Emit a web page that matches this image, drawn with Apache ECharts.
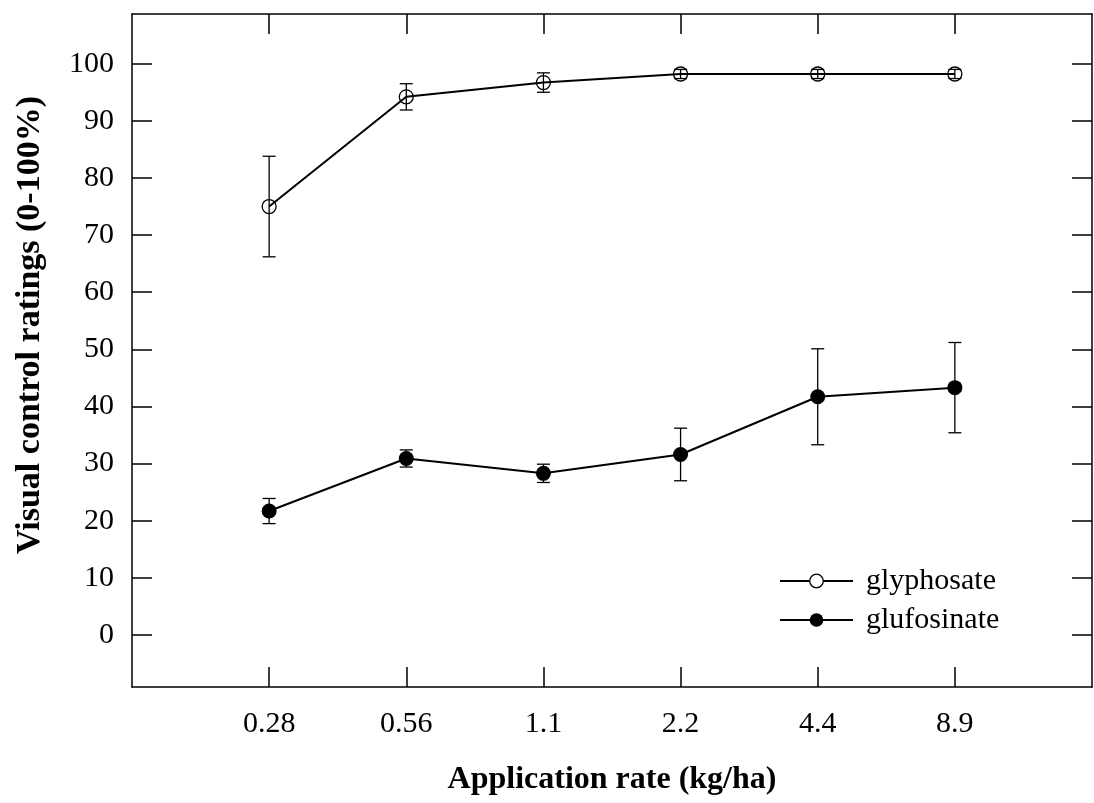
<!DOCTYPE html>
<html>
<head>
<meta charset="utf-8">
<script src="https://cdn.jsdelivr.net/npm/echarts@6/dist/echarts.min.js"></script>
<style>html,body{margin:0;padding:0;background:#fff;}#c{width:1094px;height:803px;}</style>
</head>
<body>
<div id="c"></div>
<script>
const categories = ['0.28', '0.56', '1.1', '2.2', '4.4', '8.9'];
const glyphosateMean = [75.0, 94.2, 96.7, 98.2, 98.2, 98.2];
const glyphosateErr = [8.8, 2.3, 1.7, 0.8, 0.8, 0.8];
const glufosinateMean = [21.7, 30.9, 28.3, 31.6, 41.7, 43.3];
const glufosinateErr = [2.2, 1.5, 1.6, 4.6, 8.4, 7.9];
const yTicks = [0, 10, 20, 30, 40, 50, 60, 70, 80, 90, 100];
const xTitle = 'Application rate (kg/ha)';
const yTitle = 'Visual control ratings (0-100%)';

const FONT = 'Liberation Serif';
const xPos = categories.map((c, i) => i + 1);

function pts(mean) { return mean.map((v, i) => [xPos[i], v]); }
function errs(mean, err) { return mean.map((v, i) => [xPos[i], v - err[i], v + err[i]]); }

function errRender(params, api) {
  const x = api.value(0), lo = api.value(1), hi = api.value(2);
  const a = api.coord([x, lo]), b = api.coord([x, hi]);
  const w = 6.5;
  const st = { stroke: '#000', lineWidth: 1.3, fill: null };
  return {
    type: 'group',
    children: [
      { type: 'line', shape: { x1: a[0], y1: a[1], x2: b[0], y2: b[1] }, style: st },
      { type: 'line', shape: { x1: a[0] - w, y1: a[1], x2: a[0] + w, y2: a[1] }, style: st },
      { type: 'line', shape: { x1: b[0] - w, y1: b[1], x2: b[0] + w, y2: b[1] }, style: st }
    ]
  };
}

const axisLine = { show: true, onZero: false, lineStyle: { color: '#000', width: 1.5 } };
const tickStyle = { color: '#000', width: 1.5 };

const chart = echarts.init(document.getElementById('c'), null, { renderer: 'canvas' });
chart.setOption({
  animation: false,
  backgroundColor: '#fff',
  grid: { left: 132, right: 2, top: 14, bottom: 116, show: false },
  xAxis: [
    {
      type: 'value', min: 0, max: 7, position: 'bottom',
      axisLine: axisLine, splitLine: { show: false },
      axisTick: { show: true, inside: true, length: 20, lineStyle: tickStyle, customValues: xPos },
      axisLabel: { show: true, customValues: xPos, margin: 22, color: '#000', fontFamily: FONT, fontSize: 30,
        formatter: v => categories[Math.round(v) - 1] || '' }
    },
    {
      type: 'value', min: 0, max: 7, position: 'top',
      axisLine: axisLine, splitLine: { show: false },
      axisTick: { show: true, inside: true, length: 20, lineStyle: tickStyle, customValues: xPos },
      axisLabel: { show: false }
    }
  ],
  yAxis: [
    {
      type: 'value', min: -9.1, max: 108.7, position: 'left',
      axisLine: axisLine, splitLine: { show: false },
      axisTick: { show: true, inside: true, length: 20, lineStyle: tickStyle, customValues: yTicks },
      axisLabel: { show: true, customValues: yTicks, margin: 18, color: '#000', fontFamily: FONT, fontSize: 30 }
    },
    {
      type: 'value', min: -9.1, max: 108.7, position: 'right',
      axisLine: axisLine, splitLine: { show: false },
      axisTick: { show: true, inside: true, length: 20, lineStyle: tickStyle, customValues: yTicks },
      axisLabel: { show: false }
    }
  ],
  legend: {
    orient: 'vertical', left: 774, top: 561, itemWidth: 73, itemHeight: 17, itemGap: 9,
    textStyle: { color: '#000', fontFamily: FONT, fontSize: 30, padding: [0, 0, 0, 8] },
    data: [
      { name: 'glyphosate', itemStyle: { color: '#fff', borderColor: '#000', borderWidth: 1.3 } },
      { name: 'glufosinate' }
    ]
  },
  graphic: [
    { type: 'text', x: 612, y: 780, style: { text: xTitle, font: 'bold 32px "Liberation Serif"', fill: '#000', textAlign: 'center', textVerticalAlign: 'middle' } },
    { type: 'text', x: 30, y: 325, rotation: Math.PI / 2, style: { text: yTitle, font: 'bold 34px "Liberation Serif"', fill: '#000', textAlign: 'center', textVerticalAlign: 'middle' } }
  ],
  series: [
    {
      name: 'glyphosate', type: 'line', data: pts(glyphosateMean), symbol: 'circle', symbolSize: 14,
      lineStyle: { color: '#000', width: 2 },
      itemStyle: { color: 'rgba(0,0,0,0)', borderColor: '#000', borderWidth: 1.3 },
      z: 3
    },
    {
      name: 'glufosinate', type: 'line', data: pts(glufosinateMean), symbol: 'circle', symbolSize: 15,
      lineStyle: { color: '#000', width: 2 },
      itemStyle: { color: '#000', borderColor: '#000', borderWidth: 0 },
      z: 3
    },
    { type: 'custom', renderItem: errRender, data: errs(glyphosateMean, glyphosateErr), encode: { x: 0, y: [1, 2] }, z: 5, silent: true },
    { type: 'custom', renderItem: errRender, data: errs(glufosinateMean, glufosinateErr), encode: { x: 0, y: [1, 2] }, z: 5, silent: true }
  ]
});
</script>
</body>
</html>
